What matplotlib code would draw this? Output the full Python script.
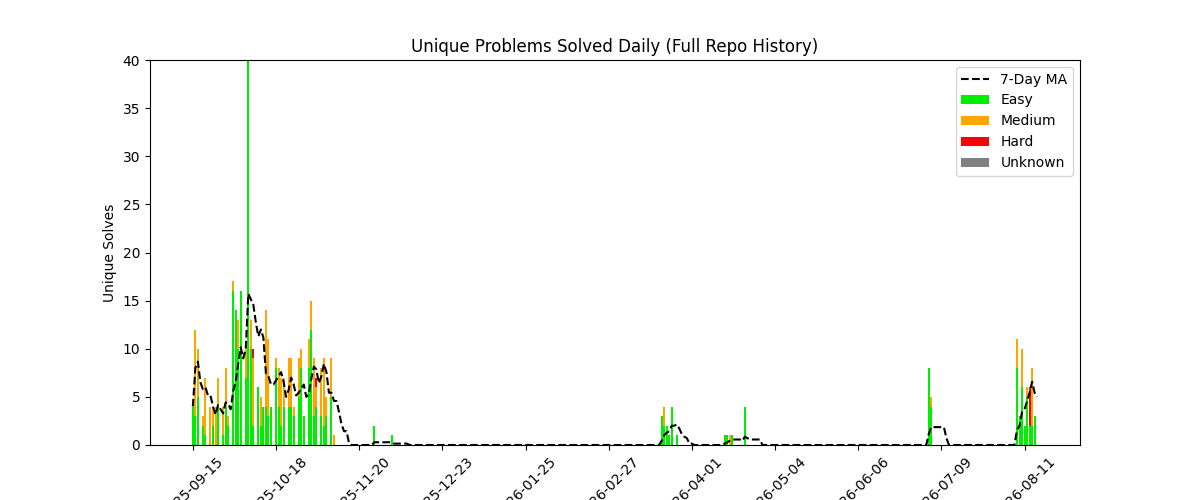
import numpy as np
import pandas as pd
import matplotlib
matplotlib.use("Agg")
import matplotlib.pyplot as plt

start = pd.Timestamp("2025-09-15")
ndays = 336
# (day offset, easy, medium, hard)
records = [
 (0,4,0,0),(1,3,9,0),(2,5,5,0),(4,2,1,0),(5,1,6,0),(7,0,4,0),(8,2,2,0),(9,0,4,0),
 (10,4,3,0),(12,1,3,0),(13,4,4,0),(14,2,1,0),(16,16,1,0),(17,14,0,0),(18,10,3,0),(19,16,0,0),
 (21,7,3,0),(22,40,0,0),(23,10,3,0),(24,2,7,1),(26,6,0,0),(27,2,3,0),(28,4,0,0),(29,4,10,0),
 (30,3,8,0),(31,4,0,0),(33,8,1,0),(34,4,4,0),(35,2,5,0),(36,4,3,0),(38,4,5,0),(39,4,5,0),
 (40,3,1,0),(42,5,4,0),(43,8,2,0),(44,3,0,0),(46,8,3,0),(47,12,3,0),(48,3,6,0),(49,4,2,1),
 (51,3,5,0),(52,2,7,0),(53,3,2,0),(55,5,4,0),(56,0,1,0),
 (72,2,0,0),(79,1,0,0),
 (186,3,0,0),(187,2,2,0),(188,2,0,0),(189,1,0,0),(190,4,0,0),(192,1,0,0),
 (211,1,0,0),(212,1,0,0),(213,0,1,0),(214,1,0,0),(219,4,0,0),
 (292,8,0,0),(293,4,1,0),
 (327,8,3,0),(328,3,0,0),(329,6,4,0),(330,2,0,0),(331,5,1,0),(332,2,0,4),(333,2,6,0),(334,3,0,0),
]
dates = pd.date_range(start, periods=ndays, freq="D")
easy = np.zeros(ndays); medium = np.zeros(ndays); hard = np.zeros(ndays); unknown = np.zeros(ndays)
for d, e, m, h in records:
    easy[d] = e; medium[d] = m; hard[d] = h
total = easy + medium + hard + unknown
ma = pd.Series(total).rolling(7, min_periods=1).mean().values

fig, ax = plt.subplots(figsize=(12, 5), dpi=100)
w = 0.8
be = ax.bar(dates, easy, width=w, color="#00ee00", label="Easy")
bm = ax.bar(dates, medium, width=w, bottom=easy, color="orange", label="Medium")
bh = ax.bar(dates, hard, width=w, bottom=easy + medium, color="red", label="Hard")
bu = ax.bar(dates, unknown, width=w, bottom=easy + medium + hard, color="gray", label="Unknown")
ln, = ax.plot(dates, ma, "k--", linewidth=1.5, label="7-Day MA")
ax.set_ylim(0, 40)
ax.set_xlim(start - pd.Timedelta(days=17), start + pd.Timedelta(days=352))
ticks = pd.date_range(start, periods=11, freq="33D")
ax.set_xticks(ticks)
ax.set_xticklabels([t.strftime("%Y-%m-%d") for t in ticks], rotation=45)
ax.set_ylabel("Unique Solves")
ax.set_title("Unique Problems Solved Daily (Full Repo History)")
ax.legend([ln, be, bm, bh, bu], ["7-Day MA", "Easy", "Medium", "Hard", "Unknown"], loc="upper right")
fig.savefig("out.png")
